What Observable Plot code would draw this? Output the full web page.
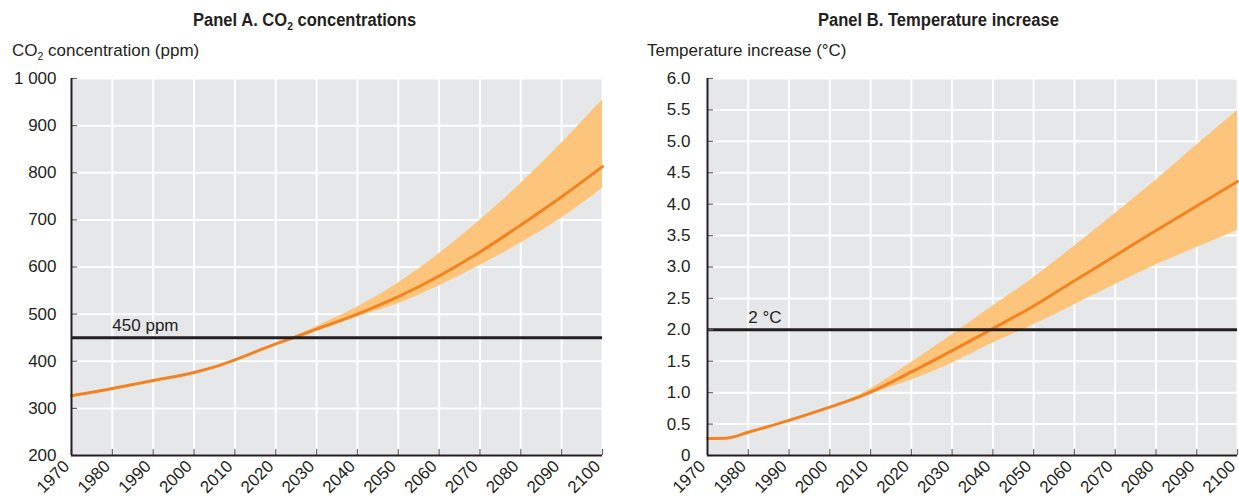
<!DOCTYPE html>
<html><head><meta charset="utf-8">
<script src="https://cdn.jsdelivr.net/npm/d3@7"></script>
<script src="https://cdn.jsdelivr.net/npm/@observablehq/plot@0.6"></script>
<style>
body{margin:0;background:#fff;}
#wrap{position:relative;width:1239px;height:503px;font-family:"Liberation Sans Narrow","Arial Narrow","Liberation Sans",sans-serif;color:#231f20;}
.title{position:absolute;top:10px;font-weight:bold;font-size:18px;white-space:nowrap;transform:scaleX(0.92);transform-origin:0 0;}
.ylab{position:absolute;top:41px;font-size:17px;white-space:nowrap;}
.panel{position:absolute;top:0;}
.panel svg{overflow:visible;}
sub{font-size:0.62em;vertical-align:-0.4em;line-height:0}
</style></head>
<body>
<div id="wrap">
  <div class="title" style="left:193px">Panel A. CO<sub>2</sub> concentrations</div>
  <div class="title" style="left:818px">Panel B. Temperature increase</div>
  <div class="ylab" style="left:12px">CO<sub>2</sub> concentration (ppm)</div>
  <div class="ylab" style="left:647px">Temperature increase (°C)</div>
  <div class="panel" id="pa" style="left:0px"></div>
  <div class="panel" id="pb" style="left:620px"></div>
</div>
<script>
// ---- Data ----
const xTicks = [1970,1980,1990,2000,2010,2020,2030,2040,2050,2060,2070,2080,2090,2100];

// Panel A: CO2 concentrations (ppm)
const co2Years   = [1970,1975,1980,1990,2000,2005,2010,2020,2025,2030,2040,2050,2060,2070,2080,2090,2100];
const co2Central = [327, 334, 342, 359, 376, 388, 403, 437, 452, 468, 500, 537, 581, 632, 689, 749, 813];
const co2BandYears = [2024,2030,2040,2050,2060,2070,2080,2090,2100];
const co2Low       = [448, 464, 494, 522, 560, 603, 651, 704, 767];
const co2High      = [450, 474, 515, 566, 628, 699, 777, 863, 955];
const co2Ticks = [200,300,400,500,600,700,800,900,1000];
const co2Ref = 450;
const co2RefLabel = "450 ppm";

// Panel B: Temperature increase (°C)
const tempYears   = [1970,1975,1980,1990,2000,2005,2010,2020,2030,2040,2050,2060,2070,2080,2090,2100];
const tempCentral = [0.27,0.28,0.37,0.56,0.77,0.88,1.01,1.33,1.67,2.02,2.38,2.78,3.18,3.58,3.97,4.36];
const tempBandYears = [2005,2010,2020,2030,2040,2050,2060,2070,2080,2090,2100];
const tempLow       = [0.88,0.98,1.20,1.47,1.79,2.08,2.40,2.72,3.03,3.31,3.58];
const tempHigh      = [0.89,1.06,1.48,1.92,2.38,2.83,3.33,3.85,4.38,4.94,5.49];
const tempTicks = [0,0.5,1,1.5,2,2.5,3,3.5,4,4.5,5,5.5,6];
const tempRef = 2;
const tempRefLabel = "2 °C";

// ---- Drawing ----
const FONT = '"Liberation Sans Narrow","Arial Narrow","Liberation Sans",sans-serif';
const INK = "#231f20";

function panel({width, marginLeft, marginRight, yTicks, yFormat, years, central, bandYears, low, high, ref, refLabel, tickPadding}) {
  const height = 503, marginTop = 78, marginBottom = 48;
  const innerW = width - marginLeft - marginRight;
  const innerH = height - marginTop - marginBottom;
  const line = years.map((y,i)=>({year:y, v:central[i]}));
  const band = bandYears.map((y,i)=>({year:y, lo:low[i], hi:high[i]}));
  const y0 = yTicks[0], y1 = yTicks[yTicks.length-1];
  return Plot.plot({
    width, height, marginTop, marginBottom, marginLeft, marginRight,
    style:{fontFamily:FONT, fontSize:"17px", color:INK, background:"transparent", overflow:"visible"},
    x:{domain:[1970,2100], label:null},
    y:{domain:[y0,y1], label:null},
    marks:[
      Plot.frame({fill:"#e6e7e8", stroke:null}),
      Plot.ruleX(xTicks, {stroke:"white", strokeWidth:2}),
      Plot.ruleY(yTicks, {stroke:"white", strokeWidth:2}),
      Plot.areaY(band, {x:"year", y1:"lo", y2:"hi", fill:"#fdc57b", curve:"monotone-x"}),
      Plot.line(line, {x:"year", y:"v", stroke:"#f58220", strokeWidth:3, curve:"monotone-x"}),
      Plot.ruleY([ref], {stroke:INK, strokeWidth:3}),
      Plot.text([refLabel], {x:()=>1980, y:()=>ref, text:d=>d, textAnchor:"start", lineAnchor:"bottom", dy:-7, fontSize:17, fill:INK}),
      Plot.ruleY(yTicks, {stroke:"#666", strokeWidth:1.2, insetRight:innerW-6}),
      Plot.ruleX(xTicks, {stroke:"#666", strokeWidth:1.2, insetTop:innerH-6}),
      Plot.ruleX([1970], {stroke:INK, strokeWidth:2}),
      Plot.ruleY([y0], {stroke:INK, strokeWidth:2}),
      Plot.axisY({ticks:yTicks, tickSize:0, tickPadding, tickFormat:yFormat, fontSize:17, label:null}),
      Plot.axisX({ticks:xTicks, tickSize:0, tickPadding:8, tickRotate:-45, dx:-5, tickFormat:d=>String(d), fontSize:17, label:null})
    ]
  });
}

document.getElementById("pa").append(panel({
  width:615, marginLeft:71, marginRight:13,
  yTicks:co2Ticks, yFormat:d=> d>=1000 ? "1 000" : String(d), tickPadding:15,
  years:co2Years, central:co2Central, bandYears:co2BandYears, low:co2Low, high:co2High,
  ref:co2Ref, refLabel:co2RefLabel
}));
document.getElementById("pb").append(panel({
  width:619, marginLeft:87, marginRight:2,
  yTicks:tempTicks, yFormat:d=> d===0 ? "0" : d3.format(".1f")(d), tickPadding:17,
  years:tempYears, central:tempCentral, bandYears:tempBandYears, low:tempLow, high:tempHigh,
  ref:tempRef, refLabel:tempRefLabel
}));
</script>
</body></html>
